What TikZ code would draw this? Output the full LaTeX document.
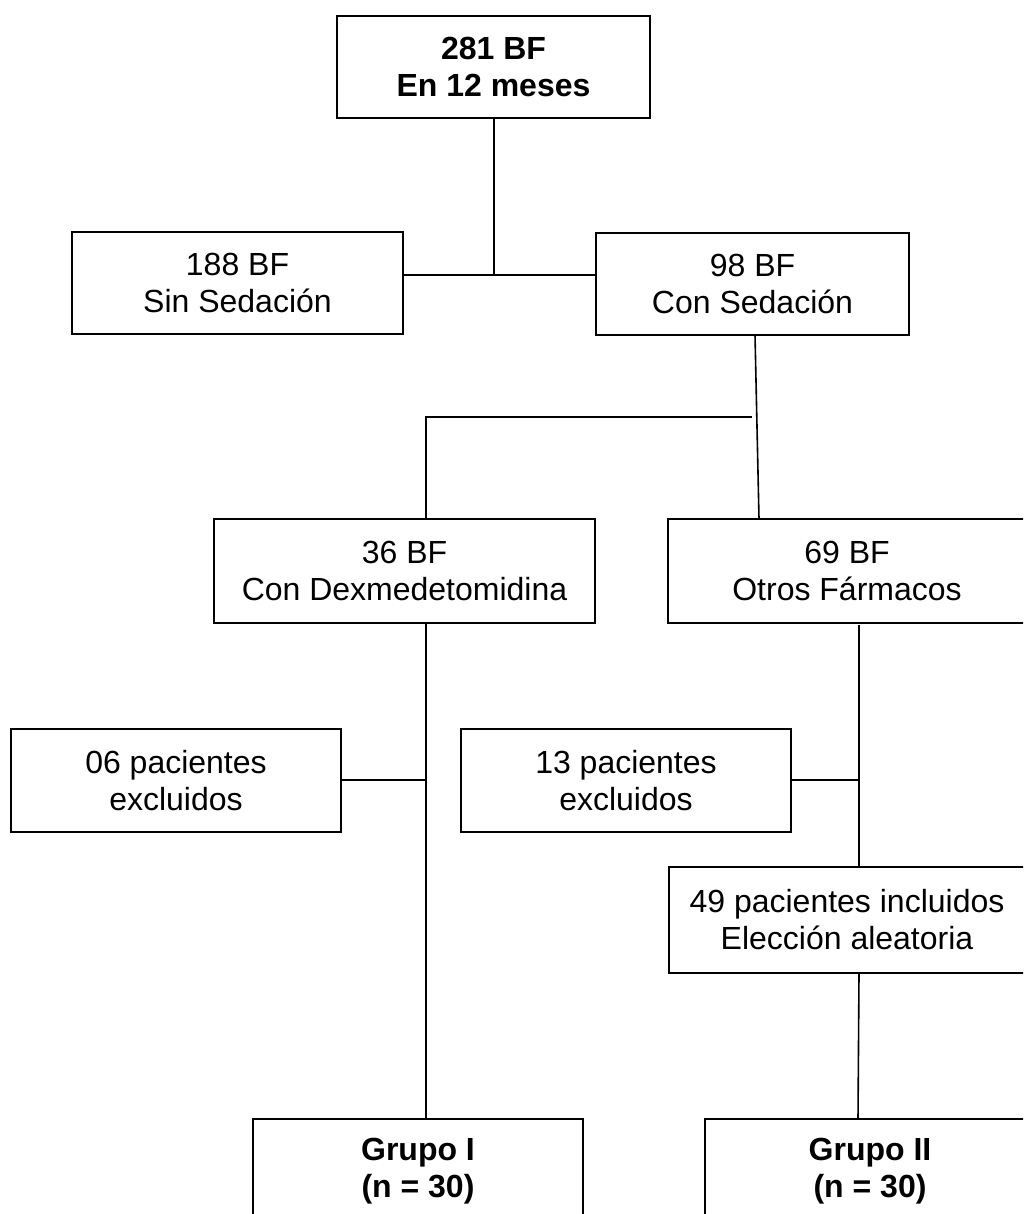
\documentclass[tikz,border=0pt]{standalone}
\usepackage{fontspec}
\setmainfont{Liberation Sans}
\begin{document}
\begin{tikzpicture}[x=1pt,y=-1pt,
  boxnode/.style={draw,line width=1.6pt,inner sep=0pt,align=center,
    font=\fontsize{32}{37}\selectfont},
  link/.style={line width=1.6pt}]
\useasboundingbox (0,0) rectangle (1023,1214);
\clip (0,0) rectangle (1023,1214);
\node[boxnode,minimum width=313pt,minimum height=102pt,font=\fontsize{32}{37}\selectfont\bfseries] (top) at (493.5,67) {281 BF\\En 12 meses};
\node[boxnode,minimum width=331pt,minimum height=102pt] (b188) at (237.5,283) {188 BF\\Sin Sedación};
\node[boxnode,minimum width=313pt,minimum height=102pt] (b98) at (752.5,284) {98 BF\\Con Sedación};
\node[boxnode,minimum width=381pt,minimum height=104pt] (b36) at (404.5,571) {36 BF\\Con Dexmedetomidina};
\node[boxnode,minimum width=358pt,minimum height=104pt] (b69) at (847,571) {69 BF\\Otros Fármacos};
\node[boxnode,minimum width=330pt,minimum height=103pt] (b06) at (176,780.5) {06 pacientes\\excluidos};
\node[boxnode,minimum width=330pt,minimum height=103pt] (b13) at (626,780.5) {13 pacientes\\excluidos};
\node[boxnode,minimum width=356pt,minimum height=106pt] (b49) at (847,920) {49 pacientes incluidos\\Elección aleatoria};
\node[boxnode,minimum width=330pt,minimum height=104pt,font=\fontsize{32}{37}\selectfont\bfseries] (g1) at (418,1171) {Grupo I\\(n = 30)};
\node[boxnode,minimum width=330pt,minimum height=104pt,font=\fontsize{32}{37}\selectfont\bfseries] (g2) at (870,1171) {Grupo II\\(n = 30)};
% junctions
\coordinate (j1) at (494,275);
\coordinate (s98) at (755,335);
\coordinate (n69) at (759,519);
\coordinate (j2) at (752,417);
\coordinate (j3) at (426,417);
\coordinate (c36) at (426,623);
\coordinate (j4) at (426,780);
\coordinate (c69) at (859,625);
\coordinate (j5) at (859,780);
\coordinate (c49n) at (859,867);
\coordinate (c49s) at (859,973);
\coordinate (cg2) at (858,1119);
% connectors
\draw[link,line width=1.2pt] (top.south -| j1) -- (j1);
\draw[link] (b188.east |- j1) -- (b98.west |- j1);
\draw[link] (s98) -- (n69);
\draw[link] (j2) -- (j3) -- (b36.north -| j3);
\draw[link] (c36) -- (g1.north -| c36);
\draw[link] (b06.east |- j4) -- (j4);
\draw[link] (c69) -- (c49n);
\draw[link] (b13.east |- j5) -- (j5);
\draw[link] (c49s) -- (cg2);
\end{tikzpicture}
\end{document}
